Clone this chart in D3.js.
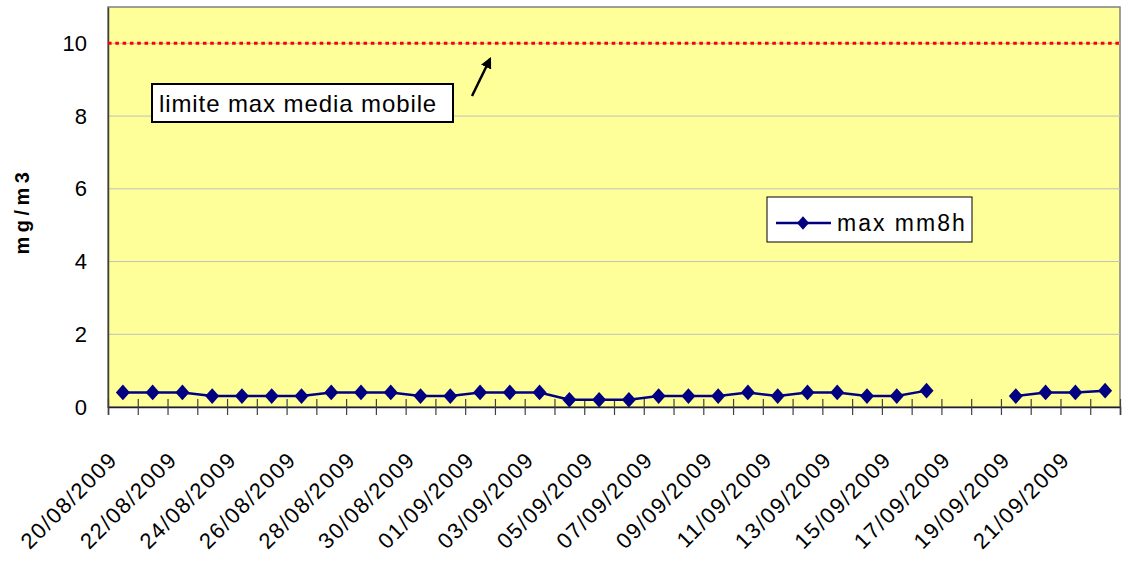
<!DOCTYPE html>
<html>
<head>
<meta charset="utf-8">
<script src="https://cdn.jsdelivr.net/npm/d3@7"></script>
<style>
  body { margin: 0; background: #fff; }
  svg { display: block; font-family: "Liberation Sans", Arial, sans-serif; }
</style>
</head>
<body>
<svg width="1122" height="564"></svg>
<script>
const width = 1122;
const height = 564;

// categories (one per day)
const dates = [
  "20/08/2009", "21/08/2009", "22/08/2009", "23/08/2009", "24/08/2009", "25/08/2009",
  "26/08/2009", "27/08/2009", "28/08/2009", "29/08/2009", "30/08/2009", "31/08/2009",
  "01/09/2009", "02/09/2009", "03/09/2009", "04/09/2009", "05/09/2009", "06/09/2009",
  "07/09/2009", "08/09/2009", "09/09/2009", "10/09/2009", "11/09/2009", "12/09/2009",
  "13/09/2009", "14/09/2009", "15/09/2009", "16/09/2009", "17/09/2009", "18/09/2009",
  "19/09/2009", "20/09/2009", "21/09/2009", "22/09/2009"
];
// max mm8h, mg/m3 (null = missing day)
const maxMm8h = [
  0.4, 0.4, 0.4, 0.3, 0.3, 0.3, 0.3, 0.4, 0.4, 0.4, 0.3, 0.3,
  0.4, 0.4, 0.4, 0.2, 0.2, 0.2, 0.3, 0.3, 0.3, 0.4, 0.3, 0.4,
  0.4, 0.3, 0.3, 0.45, null, null, 0.3, 0.4, 0.4, 0.45
];
const limitValue = 10;
const yTicks = [0, 2, 4, 6, 8, 10];
const labelDates = dates.filter((d, i) => i % 2 === 0);

const marginLeft = 108, marginRight = 2, marginTop = 7, marginBottom = 157;

const svg = d3.select("svg");

const x = d3.scaleBand(dates, [marginLeft, width - marginRight]);
const xEdge = d3.scaleLinear([0, dates.length], [marginLeft, width - marginRight]);
const y = d3.scaleLinear([0, 11], [height - marginBottom, marginTop]);
const cx = d => x(d) + x.bandwidth() / 2;

// Excel-like diamond marker (size = half width)
const excelDiamond = {
  draw(ctx, size) {
    const w = size, h = size * 1.12;
    ctx.moveTo(0, -h);
    ctx.lineTo(w, 0);
    ctx.lineTo(0, h);
    ctx.lineTo(-w, 0);
    ctx.closePath();
  }
};

// plot area
svg.append("rect")
    .attr("x", marginLeft)
    .attr("y", marginTop)
    .attr("width", width - marginRight - marginLeft)
    .attr("height", height - marginBottom - marginTop)
    .attr("fill", "#ffff99")
    .attr("stroke", "#808080")
    .attr("stroke-width", 1.5);

// gridlines
svg.append("g")
  .selectAll("line")
  .data(yTicks.filter(d => d > 0))
  .join("line")
    .attr("x1", marginLeft)
    .attr("x2", width - marginRight)
    .attr("y1", d => y(d))
    .attr("y2", d => y(d))
    .attr("stroke", "#c0c0c0")
    .attr("stroke-width", 1);

// y axis
svg.append("g")
    .attr("transform", `translate(${marginLeft},0)`)
    .call(d3.axisLeft(y).tickValues(yTicks).tickSize(0).tickPadding(21).tickFormat(d3.format("d")))
    .call(g => g.select(".domain").attr("stroke", "#404040").attr("stroke-width", 1.5))
    .call(g => g.selectAll("text")
        .attr("font-size", 22)
        .attr("font-family", "Liberation Sans, Arial, sans-serif")
        .attr("fill", "#000"));

// x axis: ticks between categories
svg.append("g")
    .attr("transform", `translate(0,${height - marginBottom})`)
    .call(d3.axisBottom(xEdge).tickValues(d3.range(dates.length + 1)).tickSize(8).tickFormat(""))
    .call(g => g.select(".domain").attr("stroke", "#202020").attr("stroke-width", 1.5))
    .call(g => g.selectAll(".tick line").attr("y1", -8).attr("stroke", "#404040").attr("stroke-width", 1.2));

// x labels, every second day
svg.append("g")
  .selectAll("text")
  .data(labelDates)
  .join("text")
    .attr("transform", d => `translate(${cx(d) - 4},${height - marginBottom + 54}) rotate(-45)`)
    .attr("text-anchor", "end")
    .attr("font-size", 22)
    .attr("letter-spacing", "1.6px")
    .attr("fill", "#000")
    .text(d => d);

// y title
svg.append("text")
    .attr("transform", `translate(29,211) rotate(-90)`)
    .attr("text-anchor", "middle")
    .attr("font-size", 20)
    .attr("font-weight", "bold")
    .attr("letter-spacing", "4.5px")
    .text("mg/m3");

// limit line
svg.append("line")
    .attr("x1", marginLeft)
    .attr("x2", width - marginRight)
    .attr("y1", y(limitValue))
    .attr("y2", y(limitValue))
    .attr("stroke", "#ff0000")
    .attr("stroke-width", 3)
    .attr("stroke-dasharray", "3.6,3.7");

// series line
const line = d3.line()
    .defined(i => maxMm8h[i] != null)
    .x(i => cx(dates[i]))
    .y(i => y(maxMm8h[i]));

svg.append("path")
    .attr("fill", "none")
    .attr("stroke", "#000080")
    .attr("stroke-width", 2.5)
    .attr("d", line(d3.range(dates.length)));

svg.append("g")
    .attr("fill", "#000080")
  .selectAll("path")
  .data(d3.range(dates.length).filter(i => maxMm8h[i] != null))
  .join("path")
    .attr("transform", i => `translate(${cx(dates[i])},${y(maxMm8h[i])})`)
    .attr("d", d3.symbol(excelDiamond, 7));

// annotation box + arrow
svg.append("defs").append("marker")
    .attr("id", "arrow")
    .attr("viewBox", "0 0 10 10")
    .attr("refX", 8)
    .attr("refY", 5)
    .attr("markerWidth", 4.5)
    .attr("markerHeight", 4.5)
    .attr("orient", "auto")
  .append("path")
    .attr("d", "M0,0L10,5L0,10Z")
    .attr("fill", "#000");

svg.append("rect")
    .attr("x", 152)
    .attr("y", 84)
    .attr("width", 301)
    .attr("height", 38)
    .attr("fill", "#fff")
    .attr("stroke", "#000")
    .attr("stroke-width", 2);

svg.append("text")
    .attr("x", 159)
    .attr("y", 112)
    .attr("font-size", 24)
    .attr("letter-spacing", "0.9px")
    .text("limite max media mobile");

svg.append("line")
    .attr("x1", 472)
    .attr("y1", 96)
    .attr("x2", 490)
    .attr("y2", 59)
    .attr("stroke", "#000")
    .attr("stroke-width", 2.5)
    .attr("marker-end", "url(#arrow)");

// legend
const legend = svg.append("g");
legend.append("rect")
    .attr("x", 767)
    .attr("y", 197)
    .attr("width", 205)
    .attr("height", 45)
    .attr("fill", "#fff")
    .attr("stroke", "#000")
    .attr("stroke-width", 1);
legend.append("line")
    .attr("x1", 776)
    .attr("x2", 831)
    .attr("y1", 223)
    .attr("y2", 223)
    .attr("stroke", "#000080")
    .attr("stroke-width", 2.5);
legend.append("path")
    .attr("transform", "translate(803,223)")
    .attr("d", d3.symbol(excelDiamond, 6))
    .attr("fill", "#000080");
legend.append("text")
    .attr("x", 837)
    .attr("y", 231)
    .attr("font-size", 23)
    .attr("letter-spacing", "2px")
    .text("max mm8h");
</script>
</body>
</html>
